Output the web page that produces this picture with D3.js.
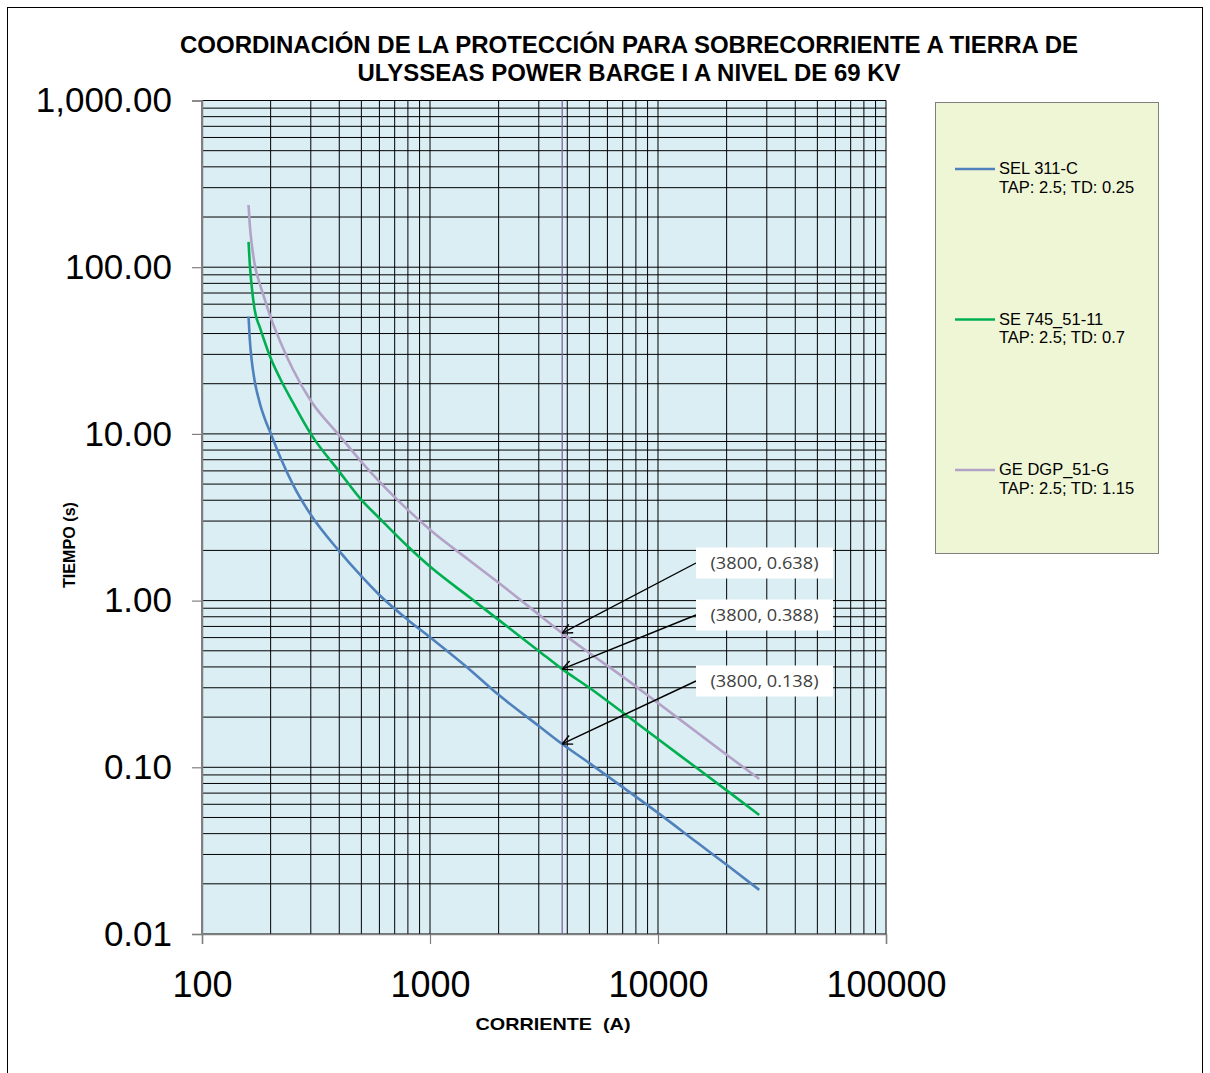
<!DOCTYPE html>
<html>
<head>
<meta charset="utf-8">
<script src="https://cdn.jsdelivr.net/npm/d3@7"></script>
<style>
  html, body { margin: 0; padding: 0; background: #ffffff; }
  svg { display: block; }
</style>
</head>
<body>
<svg id="chart" width="1210" height="1073"></svg>
<script>
// Current (A) sample points shared by every relay curve
const currents = [160, 162, 165, 170, 180, 190, 200, 220, 250, 300, 400, 500, 600, 800, 1000, 1500, 2000, 3000, 3800, 5000, 7000, 10000, 15000, 20000, 27800];

// Operating time (s) for each relay
const selTimes   = [50.6, 37, 28, 21, 15, 12, 10.1, 7.3, 5.0, 3.27, 1.98, 1.40, 1.08, 0.766, 0.603, 0.384, 0.272, 0.177, 0.138, 0.106, 0.076, 0.0533, 0.035, 0.026, 0.0184];
const se745Times = [142, 105, 78, 56, 43, 34.5, 28.5, 21.5, 15.5, 10.0, 5.94, 4.02, 3.12, 2.11, 1.60, 1.04, 0.766, 0.499, 0.388, 0.300, 0.213, 0.1477, 0.0976, 0.0727, 0.0518];
const geTimes    = [236, 180, 140, 105, 78, 62, 50, 36, 24.5, 15.8, 9.8, 6.8, 5.17, 3.50, 2.66, 1.73, 1.28, 0.825, 0.638, 0.485, 0.35, 0.243, 0.16, 0.119, 0.085];

const seriesNames  = ["SEL 311-C", "SE 745_51-11", "GE DGP_51-G"];
const seriesNotes  = ["TAP: 2.5; TD: 0.25", "TAP: 2.5; TD: 0.7", "TAP: 2.5; TD: 1.15"];
const seriesColors = ["#4F81BD", "#00B050", "#B3A2C7"];

// Marked operating points at the fault current
const markCurrent = 3800;
const markTimes = [0.638, 0.388, 0.138];

const xTicks = [100, 1000, 10000, 100000];
const yTicks = [0.01, 0.1, 1, 10, 100, 1000];

const titleLines = [
  "COORDINACIÓN DE LA PROTECCIÓN PARA SOBRECORRIENTE A TIERRA DE",
  "ULYSSEAS POWER BARGE I A NIVEL DE 69 KV"
];

const svg = d3.select("#chart");
const plotL = 202, plotR = 886, plotT = 100.5, plotB = 934;

const x = d3.scaleLog().domain([100, 100000]).range([plotL, plotR]);
const y = d3.scaleLog().domain([0.01, 1000]).range([plotB, plotT]);

// outer frame
svg.append("rect").attr("x", 7.5).attr("y", 7.5).attr("width", 1195).attr("height", 1080)
  .attr("fill", "#ffffff").attr("stroke", "#000000").attr("stroke-width", 1);

// title
svg.selectAll("text.title").data(titleLines).join("text")
  .attr("class", "title")
  .attr("x", 629).attr("y", (d, i) => 53 + i * 28)
  .attr("text-anchor", "middle")
  .attr("font-family", "Liberation Sans, Arial, sans-serif")
  .attr("font-weight", "bold").attr("font-size", 23)
  .attr("textLength", (d, i) => i === 0 ? 898 : 543)
  .attr("lengthAdjust", "spacingAndGlyphs")
  .attr("fill", "#000")
  .text(d => d);

// plot background
svg.append("rect").attr("x", plotL).attr("y", plotT).attr("width", plotR - plotL).attr("height", plotB - plotT)
  .attr("fill", "#DBEEF4");

// log grid: every 1..9 multiple of each decade
const xGrid = [];
for (let e = 2; e < 5; e++) for (let m = 1; m <= 9; m++) xGrid.push(m * Math.pow(10, e));
xGrid.push(100000);
const yGrid = [];
for (let e = -2; e < 3; e++) for (let m = 1; m <= 9; m++) yGrid.push(+(m * Math.pow(10, e)).toPrecision(3));
yGrid.push(1000);

const grid = svg.append("g");
grid.selectAll("line.gx").data(xGrid).join("line")
  .attr("x1", d => x(d)).attr("x2", d => x(d)).attr("y1", plotT).attr("y2", plotB)
  .attr("stroke", "#000").attr("stroke-width", 1);
grid.selectAll("line.gy").data(yGrid).join("line")
  .attr("y1", d => y(d)).attr("y2", d => y(d)).attr("x1", plotL).attr("x2", plotR)
  .attr("stroke", "#000").attr("stroke-width", 1);

// axes
const yAxis = svg.append("g").attr("transform", `translate(${plotL},0)`)
  .call(d3.axisLeft(y).tickValues(yTicks).tickFormat(d3.format(",.2f")).tickSize(10).tickPadding(20));
const xAxis = svg.append("g").attr("transform", `translate(0,${plotB})`)
  .call(d3.axisBottom(x).tickValues(xTicks).tickFormat(d3.format("d")).tickSize(10).tickPadding(27));
[yAxis, xAxis].forEach(a => {
  a.select(".domain").attr("stroke", "#808080").attr("stroke-width", 1.5);
  a.selectAll(".tick line").attr("stroke", "#808080").attr("stroke-width", 1.2);
  a.selectAll(".tick text").attr("font-family", "Liberation Sans, Arial, sans-serif").attr("fill", "#000");
});
yAxis.selectAll(".tick text").attr("font-size", 35);
xAxis.selectAll(".tick text").attr("font-size", 36);

// axis titles
svg.append("text").attr("transform", "translate(75,545) rotate(-90)")
  .attr("text-anchor", "middle")
  .attr("font-family", "Liberation Sans, Arial, sans-serif").attr("font-weight", "bold").attr("font-size", 16)
  .attr("textLength", 86).attr("lengthAdjust", "spacingAndGlyphs")
  .text("TIEMPO (s)");
svg.append("text").attr("x", 553).attr("y", 1030)
  .attr("text-anchor", "middle")
  .attr("font-family", "Liberation Sans, Arial, sans-serif").attr("font-weight", "bold").attr("font-size", 17)
  .attr("textLength", 155).attr("lengthAdjust", "spacingAndGlyphs")
  .attr("xml:space", "preserve")
  .text("CORRIENTE  (A)");

// fault current marker line
svg.append("line").attr("x1", x(markCurrent)).attr("x2", x(markCurrent)).attr("y1", plotT).attr("y2", plotB)
  .attr("stroke", "#8064A2").attr("stroke-width", 1.3);

// relay curves
const allTimes = [selTimes, se745Times, geTimes];
const line = d3.line().x(d => x(d[0])).y(d => y(d[1])).curve(d3.curveMonotoneX);
allTimes.forEach((ts, i) => {
  svg.append("path").datum(currents.map((c, k) => [c, ts[k]]))
    .attr("d", line).attr("fill", "none")
    .attr("stroke", seriesColors[i]).attr("stroke-width", 2.6);
});

// legend
const lg = svg.append("g");
lg.append("rect").attr("x", 935.5).attr("y", 102.5).attr("width", 223).attr("height", 451)
  .attr("fill", "#EFF6D5").attr("stroke", "#808080").attr("stroke-width", 1);
const legendY = [169, 319.5, 470];
seriesNames.forEach((n, i) => {
  lg.append("line").attr("x1", 955).attr("x2", 995).attr("y1", legendY[i]).attr("y2", legendY[i])
    .attr("stroke", seriesColors[i]).attr("stroke-width", 2.6);
  const t = lg.append("text").attr("x", 999).attr("y", legendY[i] + 5)
    .attr("font-family", "Liberation Sans, Arial, sans-serif").attr("font-size", 16.5).attr("fill", "#000");
  t.append("tspan").attr("x", 999).text(n);
  t.append("tspan").attr("x", 999).attr("dy", 18.5).text(seriesNotes[i]);
});

// annotation labels with arrows
const boxY = [547.5, 599.5, 665.5];
const ann = svg.append("g");
const arrowLen = 11, arrowAng = 0.45;
markTimes.forEach((t, i) => {
  const bx = 696, by = boxY[i], bw = 137, bh = 31;
  const sx = bx, sy = by + bh / 2;
  const ex = x(markCurrent), ey = y(t);
  ann.append("line").attr("x1", sx).attr("y1", sy).attr("x2", ex).attr("y2", ey)
    .attr("stroke", "#000").attr("stroke-width", 1.4);
  const ang = Math.atan2(sy - ey, sx - ex);
  [-arrowAng, arrowAng].forEach(da => {
    ann.append("line").attr("x1", ex).attr("y1", ey)
      .attr("x2", ex + arrowLen * Math.cos(ang + da)).attr("y2", ey + arrowLen * Math.sin(ang + da))
      .attr("stroke", "#000").attr("stroke-width", 1.4);
  });
  ann.append("rect").attr("x", bx).attr("y", by).attr("width", bw).attr("height", bh).attr("fill", "#ffffff");
  ann.append("text").attr("x", bx + bw / 2).attr("y", by + bh / 2 + 6)
    .attr("text-anchor", "middle")
    .attr("font-family", "Open Sans, Liberation Sans, sans-serif").attr("font-size", 16)
    .attr("textLength", 108).attr("lengthAdjust", "spacingAndGlyphs")
    .attr("fill", "#404040")
    .text(`(${markCurrent}, ${d3.format(".3f")(t)})`);
});
</script>
</body>
</html>
